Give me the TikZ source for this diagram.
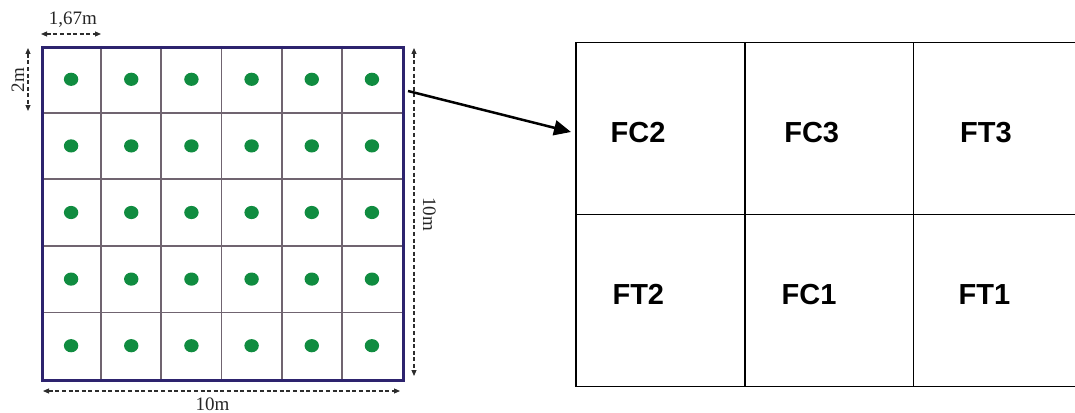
\documentclass[tikz,border=0pt]{standalone}
\usepackage{fontspec}
\setmainfont{Liberation Serif}
\setsansfont{Liberation Sans}
\usetikzlibrary{arrows.meta}
\definecolor{navy}{RGB}{45,35,110}
\definecolor{gridl}{RGB}{112,100,112}
\definecolor{dotg}{RGB}{16,140,64}
\definecolor{dimg}{RGB}{45,45,45}
\tikzset{
  outerframe/.style={draw=navy,line width=3pt},
  innerline/.style={draw=gridl,line width=1.8pt},
  plant/.style={fill=dotg,draw=none},
  dimline/.style={draw=dimg,line width=1.1pt,dash pattern=on 4pt off 2.6pt,
    {Triangle[length=6pt,width=5pt]}-{Triangle[length=6pt,width=5pt]}},
  dimlabel/.style={font=\fontsize{19}{19}\selectfont,inner sep=0pt,anchor=base,text=black!85},
  plotline/.style={draw=black,line width=1.6pt},
  plotlabel/.style={font=\sffamily\bfseries\fontsize{29}{29}\selectfont,inner sep=0pt,anchor=base},
  bigarrow/.style={draw=black,line width=2.5pt,-{Triangle[length=17pt,width=15pt]}}
}
\begin{document}
\begin{tikzpicture}[x=1pt,y=-1pt]
\useasboundingbox (0,0) rectangle (1075,412);
% left field grid
\foreach \i in {1,...,5}{
  \draw[innerline] ({41+\i*60.17},46) -- ({41+\i*60.17},379);
}
\foreach \j in {1,...,4}{
  \draw[innerline] (41,{46+\j*66.6}) -- (402,{46+\j*66.6});
}
\node[outerframe,rectangle,minimum width=361pt,minimum height=333pt,anchor=north west,inner sep=0pt] (field) at (41,46) {};
\foreach \i in {0,...,5}{
  \foreach \j in {0,...,4}{
    \fill[plant] ({41+(\i+0.5)*60.17},{46+(\j+0.5)*66.6}) ellipse [x radius=7.2pt,y radius=6.6pt];
  }
}
% dimensions
\coordinate (t1) at (41,34); \coordinate (t2) at (101,34);
\draw[dimline] (t1) -- (t2);
\node[dimlabel] (lw) at (73,25) {1,67m};
\coordinate (l1) at (28,48); \coordinate (l2) at (28,111);
\draw[dimline] (l1) -- (l2);
\node[dimlabel,rotate=90] (lh) at (24,80) {2m};
\coordinate (r1) at (414,48); \coordinate (r2) at (414,376);
\draw[dimline] (r1) -- (r2);
\node[dimlabel,rotate=-90] (rh) at (423,214) {10m};
\coordinate (b1) at (43,391); \coordinate (b2) at (400,391);
\draw[dimline] (b1) -- (b2);
\node[dimlabel] (bw) at (212.5,410) {10m};
% right plot layout
\draw[plotline] (1085,42.7) -- (576,42.7) -- (576,386.5) -- (1085,386.5);
\draw[plotline] (576,214.3) -- (1085,214.3);
\draw[plotline] (745,42.7) -- (745,386.5);
\draw[plotline] (913.3,42.7) -- (913.3,386.5);
\node[plotlabel] (fc2) at (638,142.7) {FC2};
\node[plotlabel] (fc3) at (811.7,142.7) {FC3};
\node[plotlabel] (ft3) at (986,142.7) {FT3};
\node[plotlabel] (ft2) at (638.3,304.3) {FT2};
\node[plotlabel] (fc1) at (809,304.3) {FC1};
\node[plotlabel] (ft1) at (984.5,304.3) {FT1};
% arrow
\coordinate (src) at (408,91);
\coordinate (dst) at (571,132);
\draw[bigarrow] (src) -- (dst);
\end{tikzpicture}
\end{document}
